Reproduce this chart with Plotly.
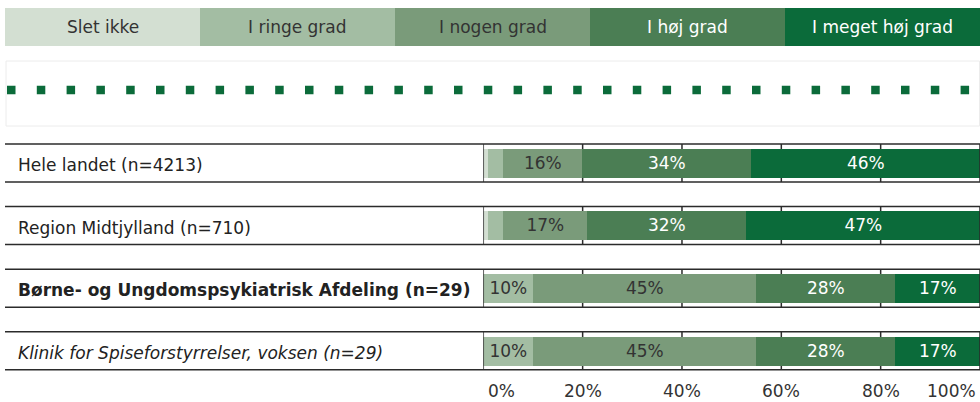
import plotly.graph_objects as go

# Survey response categories and their colours
categories = ["Slet ikke", "I ringe grad", "I nogen grad", "I høj grad", "I meget høj grad"]
colors = ["#d3dfd2", "#a3bda3", "#7a9b7a", "#4b7e54", "#0b6b3a"]
text_colors = ["#333333", "#333333", "#333333", "#ffffff", "#ffffff"]

# Respondent groups (rows, top to bottom)
groups = [
    "Hele landet (n=4213)",
    "Region Midtjylland (n=710)",
    "<b>Børne- og Ungdomspsykiatrisk Afdeling (n=29)</b>",
    "<i>Klinik for Spiseforstyrrelser, voksen (n=29)</i>",
]

# Percentage share per category for each group
slet_ikke = [1, 1, 0, 0]
i_ringe_grad = [3, 3, 10, 10]
i_nogen_grad = [16, 17, 45, 45]
i_hoej_grad = [34, 32, 28, 28]
i_meget_hoej_grad = [46, 47, 17, 17]
series = [slet_ikke, i_ringe_grad, i_nogen_grad, i_hoej_grad, i_meget_hoej_grad]

# Axis ticks
tick_vals = [0, 20, 40, 60, 80, 100]
tick_text = ["0%", "20%", "40%", "60%", "80%", "100%"]

W, H = 980, 402
FONT = "DejaVu Sans"
FS = 17
LINE = "#2b2b2b"


def px(x):
    return x / W


def py(y):
    return 1 - y / H


rows = list(range(len(groups)))
fig = go.Figure()

for cat, vals, col, tcol in zip(categories, series, colors, text_colors):
    fig.add_trace(go.Bar(
        y=rows,
        x=vals,
        orientation="h",
        name=cat,
        marker=dict(color=col, line=dict(width=0)),
        width=0.463,
        text=[f"{v}%" if v >= 5 else "" for v in vals],
        textposition="inside",
        insidetextanchor="middle",
        textangle=0,
        constraintext="none",
        textfont=dict(family=FONT, size=FS, color=tcol),
        hoverinfo="skip",
        showlegend=False,
    ))

shapes = []
annotations = []

# Category header strip
left, right = 5, 980
seg = (right - left) / len(categories)
for i, (cat, col, tcol) in enumerate(zip(categories, colors, text_colors)):
    x0 = left + i * seg
    shapes.append(dict(type="rect", xref="paper", yref="paper",
                       x0=px(x0), x1=px(x0 + seg), y0=py(46), y1=py(8),
                       fillcolor=col, line=dict(width=0), layer="below"))
    annotations.append(dict(xref="paper", yref="paper", x=px(x0 + seg / 2), y=py(27),
                            text=cat, showarrow=False, xanchor="center", yanchor="middle",
                            font=dict(family=FONT, size=FS, color=tcol)))

# Dotted reference band
shapes.append(dict(type="rect", xref="paper", yref="paper",
                   x0=px(6), x1=px(979.5), y0=py(126), y1=py(61),
                   fillcolor="rgba(0,0,0,0)", line=dict(color="#ececec", width=1)))
shapes.append(dict(type="line", xref="paper", yref="paper",
                   x0=px(7), x1=px(975), y0=py(90), y1=py(90),
                   line=dict(color="#0b6b3a", width=8.5, dash="8.5px,21.3px")))

# Row frames with short gridline segments
half = 0.3035
for r in rows:
    for yy in (r - half, r + half):
        shapes.append(dict(type="line", xref="paper", yref="y",
                           x0=px(5), x1=1, y0=yy, y1=yy,
                           line=dict(color=LINE, width=1.5)))
    for tv in tick_vals:
        shapes.append(dict(type="line", xref="x", yref="y",
                           x0=tv, x1=tv, y0=r - half, y1=r + half,
                           line=dict(color=LINE, width=1.5),
                           layer="above" if tv in (0, 100) else "below"))
    annotations.append(dict(xref="paper", yref="y", x=px(16), y=r, yshift=-2,
                            text=groups[r], showarrow=False, xanchor="left", yanchor="middle",
                            font=dict(family=FONT, size=FS, color="#222222")))

# Percentage scale labels; the end labels are kept inside the axis span
for i, (tv, tt) in enumerate(zip(tick_vals, tick_text)):
    if i == 0:
        anchor, shift = "left", 3
    elif i == len(tick_vals) - 1:
        anchor, shift = "right", -2
    else:
        anchor, shift = "center", 0
    annotations.append(dict(xref="x", yref="paper", x=tv, y=py(391),
                            text=tt, showarrow=False, xanchor=anchor, yanchor="middle",
                            xshift=shift, font=dict(family=FONT, size=FS, color="#333333")))

fig.update_layout(
    width=W, height=H,
    margin=dict(l=0, r=0, t=0, b=0, autoexpand=False),
    paper_bgcolor="white", plot_bgcolor="white",
    barmode="stack",
    bargap=0,
    shapes=shapes,
    annotations=annotations,
    xaxis=dict(domain=[px(483.3), 1], range=[0, 100],
               showticklabels=False, automargin=False,
               showgrid=False, zeroline=False, showline=False, ticks="",
               fixedrange=True),
    yaxis=dict(domain=[py(382.1), py(131.7)], range=[3.5, -0.5],
               automargin=False,
               showticklabels=False, showgrid=False, zeroline=False, showline=False,
               fixedrange=True),
)

fig.write_html("out.html")
